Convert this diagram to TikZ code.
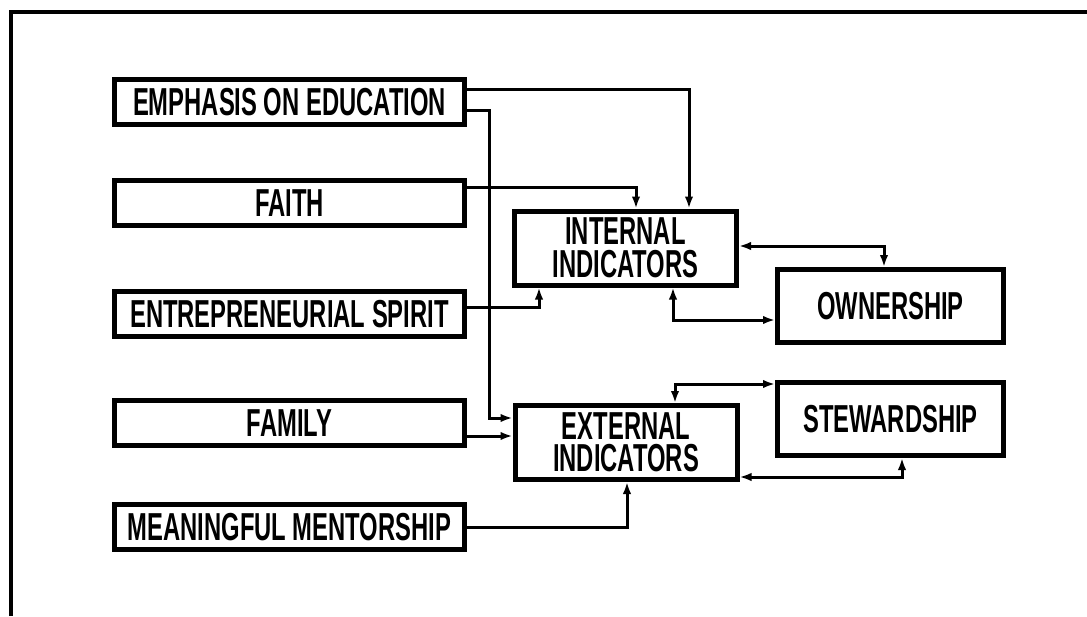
\documentclass[tikz,border=0pt]{standalone}
\usepackage{fontspec}
\setmainfont{Liberation Sans}[FakeStretch=0.61]
\usepackage{tikz}
\usetikzlibrary{scopes,positioning,arrows.meta}

\begin{document}
\begin{tikzpicture}[
    x=1pt,y=-1pt,
    frame/.style={line width=4pt,draw=black},
    cause/.style={rectangle,draw,line width=5pt,minimum width=350pt,minimum height=45pt,inner sep=0pt,font=\bfseries\fontsize{39}{32.5}\selectfont},
    indicator/.style={cause,minimum width=222pt,minimum height=74pt,align=center},
    outcome/.style={cause,minimum width=226pt,minimum height=73pt},
    link/.style={line width=3pt,>={Latex[length=12pt,width=8.5pt]}},
]
\useasboundingbox (0,0) rectangle (1087,616);

    % outer frame, cut off at right and bottom
    \draw[frame] (10.5,616) |- (1087,11.5);

    % causes
    \node[cause] (edu) at (289.5,102) {EMPHASIS ON EDUCATION};
    \node[cause] (faith) at (289.5,203) {FAITH};
    \node[cause] (spirit) at (289.5,314) {ENTREPRENEURIAL SPIRIT};
    \node[cause] (family) at (289.5,423) {FAMILY};
    \node[cause] (mentor) at (289.5,527) {MEANINGFUL MENTORSHIP};

    % indicators
    \node[indicator] (internal) at (625.5,248) {INTERNAL\\INDICATORS};
    \node[indicator] (external) at (626,442.5) {EXTERNAL\\INDICATORS};

    % outcomes
    \node[outcome] (owner) at (890.5,306) {OWNERSHIP};
    \node[outcome] (steward) at (890.5,419) {STEWARDSHIP};

    %%%

    {[link,->]
        \draw ([yshift=13pt]edu.east) -| ([xshift=63.5pt]internal.north);
        \draw ([yshift=-8pt]edu.east) -- ++(22,0) |- ([yshift=24.5pt]external.west);
        \draw ([yshift=16pt]faith.east) -| ([xshift=10.5pt]internal.north);
        \draw ([yshift=7pt]spirit.east) -| ([xshift=-86.5pt]internal.south);
        \draw ([yshift=-13pt]family.east) -- ([yshift=-13pt]family.east -| external.west);
        \draw (mentor.east) -| ([xshift=1pt]external.south);
    }
    {[link,<->]
        \draw ([yshift=2pt]internal.east) -| ([xshift=-6.5pt]owner.north);
        \draw ([xshift=47.5pt]internal.south) |- ([yshift=-14pt]owner.west);
        \draw ([xshift=49pt]external.north) |- ([yshift=35pt]steward.west);
        \draw ([yshift=-34.5pt]external.east) -| ([xshift=11.5pt]steward.south);
    }

\end{tikzpicture}
\end{document}
